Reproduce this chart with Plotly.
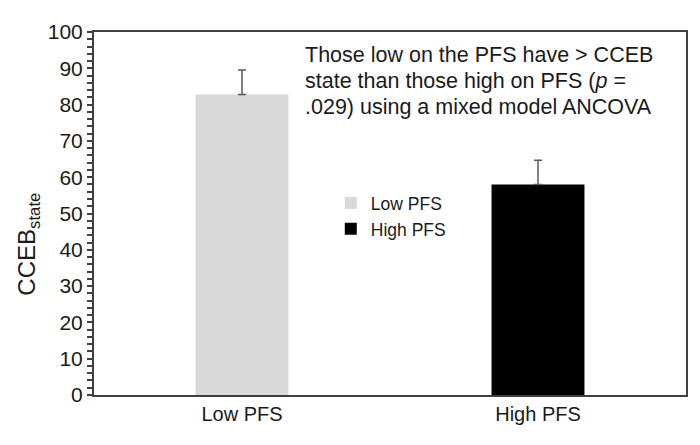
import plotly.graph_objects as go

categories = ["Low PFS", "High PFS"]
means = [82.8, 58.0]
errors = [6.7, 6.7]
colors = ["#d9d9d9", "#000000"]
y_ticks = [0, 10, 20, 30, 40, 50, 60, 70, 80, 90, 100]
note_lines = [
    "Those low on the PFS have > CCEB",
    "state than those high on PFS (<i>p</i> =",
    ".029) using a mixed model ANCOVA",
]

FONT = "Liberation Sans, Arial, sans-serif"

fig = go.Figure()
for cat, m, e, c in zip(categories, means, errors, colors):
    fig.add_trace(go.Bar(
        x=[cat], y=[m], name=cat,
        marker=dict(color=c, line=dict(width=0)),
        width=0.314,
        error_y=dict(type="data", array=[e], arrayminus=[0], symmetric=False,
                     color="#595959", thickness=1.5, width=4),
    ))

# page body has an 8px default margin; size the figure to fit inside the window
fig.update_layout(
    width=692, height=437,
    margin=dict(l=86, r=14, t=22, b=50),
    paper_bgcolor="white", plot_bgcolor="white",
    barmode="overlay",
    font=dict(family=FONT, size=20, color="#1a1a1a"),
    showlegend=True,
    legend=dict(x=0.40, y=0.578, xanchor="left", yanchor="top",
                font=dict(size=17.5, color="#1a1a1a"), bgcolor="rgba(0,0,0,0)",
                itemwidth=30, tracegroupgap=0),
    xaxis=dict(range=[-0.5, 1.5], showline=True, linecolor="#404040", linewidth=2,
               mirror=True, ticks="", showgrid=False,
               tickfont=dict(size=20, color="#1a1a1a")),
    yaxis=dict(range=[0, 100], tickvals=y_ticks, showline=True, linecolor="#404040",
               linewidth=2, mirror=True, ticks="outside", ticklen=5, tickwidth=1.5,
               tickcolor="#404040", showgrid=False, zeroline=False,
               tickfont=dict(size=21, color="#1a1a1a"),
               minor=dict(dtick=2, ticks="outside", ticklen=5, tickwidth=1.5,
                          tickcolor="#404040", showgrid=False)),
)

# y-axis title (placed as annotation to match its off-centre position)
fig.add_annotation(
    xref="paper", yref="paper", x=-0.111, y=0.415, xanchor="center", yanchor="middle",
    text="CCEB<sub>state</sub>", textangle=-90, showarrow=False,
    font=dict(family=FONT, size=24, color="#1a1a1a"),
)

line_y = [0.936, 0.866, 0.794]
for txt, yy in zip(note_lines, line_y):
    fig.add_annotation(
        xref="paper", yref="paper", x=0.353, y=yy, xanchor="left", yanchor="middle",
        text=txt, showarrow=False, align="left",
        font=dict(family=FONT, size=21.5, color="#1a1a1a"),
    )

fig.write_html("out.html")
